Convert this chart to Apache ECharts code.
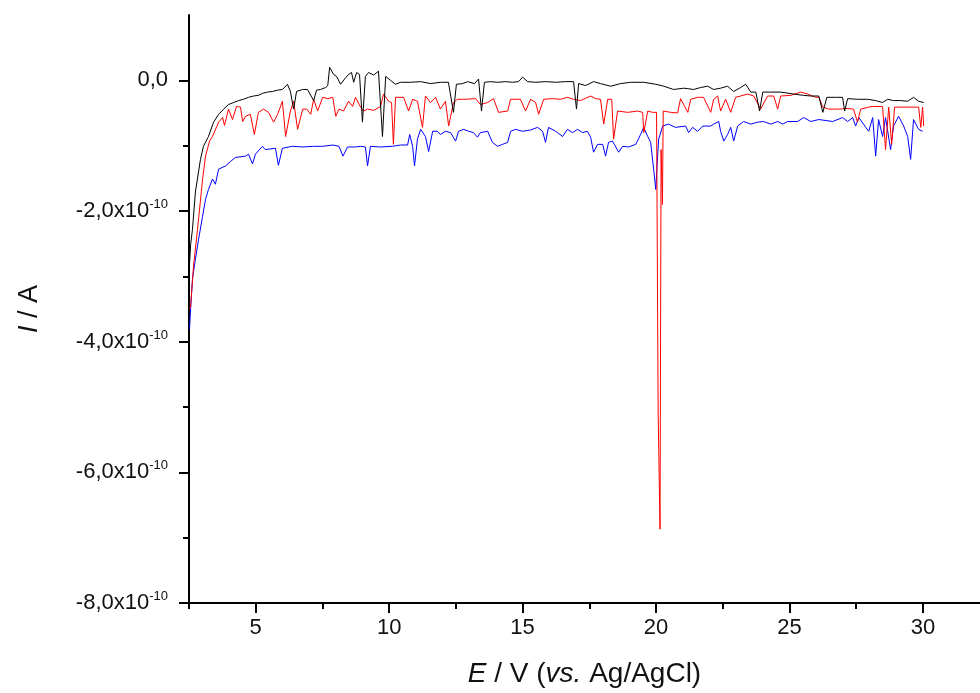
<!DOCTYPE html>
<html>
<head>
<meta charset="utf-8">
<script src="https://cdn.jsdelivr.net/npm/echarts@6/dist/echarts.min.js"></script>
<style>
html,body{margin:0;padding:0;background:#fff;}
#chart{width:980px;height:693px;}
</style>
</head>
<body>
<div id="chart"></div>
<script>
// Potential E / V (vs. Ag/AgCl) and current I in units of 1e-10 A
const blackE = [2.52,2.56,2.63,2.74,2.93,3.04,3.23,3.42,3.61,3.80,3.98,4.17,4.36,4.54,4.73,4.92,5.10,5.25,5.44,5.63,5.82,6.00,6.19,6.30,6.42,6.53,6.76,6.94,7.17,7.28,7.43,7.62,7.70,7.77,7.92,8.03,8.18,8.33,8.48,8.59,8.67,8.78,8.89,9.00,9.11,9.23,9.42,9.60,9.75,9.87,10.05,10.24,10.43,10.80,11.18,11.55,11.92,12.22,12.41,12.52,12.75,12.94,13.20,13.35,13.46,13.57,13.80,14.06,14.36,14.63,14.85,15.00,15.19,15.49,15.86,16.24,16.61,16.91,17.02,17.10,17.36,17.66,17.92,18.30,18.67,19.05,19.54,19.99,20.29,20.66,21.04,21.41,21.67,21.93,22.16,22.42,22.68,22.91,23.17,23.36,23.55,23.74,23.88,24.00,24.30,24.67,25.16,25.53,25.80,26.10,26.25,26.40,26.73,26.99,27.07,27.18,27.55,27.93,28.23,28.49,28.68,28.90,29.17,29.43,29.65,29.84,30.03];
const blackI = [-2.81,-2.52,-2.28,-1.71,-1.21,-1.01,-0.86,-0.64,-0.52,-0.44,-0.37,-0.34,-0.31,-0.29,-0.26,-0.24,-0.23,-0.20,-0.18,-0.17,-0.15,-0.14,-0.06,-0.17,-0.44,-0.17,-0.14,-0.14,-0.31,-0.15,-0.14,-0.11,-0.08,0.20,0.09,0.06,-0.06,0.02,0.09,0.12,-0.03,0.12,0.09,-0.64,0.06,0.12,0.08,0.14,-0.86,0.06,0.00,-0.06,-0.03,-0.03,-0.02,-0.05,-0.03,-0.03,-0.49,-0.06,-0.05,-0.02,-0.05,0.02,-0.47,-0.03,-0.02,-0.03,-0.02,-0.03,-0.02,0.05,-0.02,-0.03,-0.02,-0.03,-0.02,-0.02,-0.44,-0.05,-0.08,-0.02,-0.05,-0.09,-0.05,-0.03,-0.03,-0.06,-0.09,-0.14,-0.12,-0.14,-0.11,-0.09,-0.14,-0.12,-0.09,-0.17,-0.11,-0.06,-0.18,-0.18,-0.47,-0.18,-0.18,-0.18,-0.21,-0.23,-0.24,-0.24,-0.49,-0.26,-0.26,-0.26,-0.47,-0.28,-0.29,-0.29,-0.31,-0.34,-0.29,-0.31,-0.31,-0.32,-0.26,-0.32,-0.34];

const redE = [2.52,2.56,2.67,2.82,3.01,3.12,3.27,3.38,3.61,3.76,3.83,3.98,4.13,4.28,4.43,4.51,4.62,4.80,4.95,5.10,5.29,5.48,5.67,5.82,6.00,6.12,6.30,6.42,6.57,6.76,6.91,7.06,7.17,7.32,7.51,7.70,7.89,8.00,8.12,8.29,8.48,8.63,8.74,8.93,9.04,9.19,9.42,9.68,9.79,9.98,10.09,10.16,10.24,10.54,10.73,10.88,11.06,11.25,11.36,11.55,11.74,11.92,12.11,12.23,12.41,12.56,12.86,13.24,13.42,13.69,13.91,14.10,14.44,14.55,14.92,15.11,15.30,15.49,15.60,15.79,16.12,16.42,16.68,16.91,17.17,17.55,17.74,17.92,18.04,18.19,18.34,18.41,18.56,18.94,19.31,19.50,19.54,19.69,19.87,20.02,20.08,20.15,20.19,20.24,20.27,20.55,20.81,20.92,21.19,21.30,21.56,21.78,22.05,22.16,22.31,22.42,22.61,22.80,22.98,23.17,23.43,23.66,23.92,24.18,24.41,24.56,24.67,25.05,25.42,25.68,25.98,26.10,26.25,26.47,26.73,26.92,27.10,27.40,27.55,27.67,27.97,28.12,28.49,28.60,28.72,28.83,28.94,29.36,29.62,29.84,29.92,29.99,30.03];
const redI = [-3.50,-3.46,-2.84,-2.28,-1.51,-1.16,-0.93,-0.86,-0.64,-0.57,-0.69,-0.44,-0.60,-0.40,-0.41,-0.63,-0.55,-0.52,-0.83,-0.49,-0.44,-0.49,-0.64,-0.52,-0.32,-0.86,-0.47,-0.32,-0.75,-0.44,-0.44,-0.52,-0.29,-0.47,-0.26,-0.28,-0.26,-0.55,-0.44,-0.47,-0.32,-0.40,-0.26,-0.41,-0.47,-0.44,-0.46,-0.40,-0.21,-0.32,-0.34,-0.98,-0.26,-0.26,-0.47,-0.29,-0.32,-0.72,-0.24,-0.34,-0.26,-0.44,-0.32,-0.70,-0.34,-0.29,-0.29,-0.28,-0.37,-0.34,-0.28,-0.49,-0.47,-0.29,-0.29,-0.47,-0.29,-0.34,-0.52,-0.29,-0.28,-0.29,-0.26,-0.29,-0.31,-0.24,-0.28,-0.29,-0.67,-0.29,-0.29,-0.90,-0.47,-0.49,-0.47,-0.49,-0.80,-0.47,-0.49,-0.49,-5.08,-6.87,-1.06,-1.90,-0.47,-0.49,-0.50,-0.28,-0.49,-0.29,-0.26,-0.26,-0.49,-0.29,-0.24,-0.47,-0.29,-0.49,-0.26,-0.24,-0.21,-0.24,-0.44,-0.24,-0.24,-0.44,-0.24,-0.23,-0.18,-0.21,-0.26,-0.26,-0.41,-0.44,-0.44,-0.44,-0.43,-0.44,-0.64,-0.44,-0.41,-0.40,-0.40,-1.06,-0.41,-0.98,-0.41,-0.41,-0.41,-0.41,-0.72,-0.41,-0.70];

const blueE = [2.52,2.56,2.63,2.74,2.86,3.01,3.12,3.23,3.38,3.49,3.61,3.87,4.06,4.24,4.62,4.73,4.88,4.99,5.25,5.36,5.74,5.85,6.00,6.38,6.76,7.13,7.51,7.89,8.12,8.27,8.44,8.74,8.93,9.11,9.19,9.30,9.68,10.12,10.43,10.69,10.77,10.88,10.95,11.06,11.18,11.36,11.48,11.63,11.81,11.92,12.11,12.30,12.49,12.60,12.79,12.98,13.16,13.31,13.42,13.69,13.87,14.06,14.25,14.44,14.55,14.74,15.00,15.30,15.56,15.75,15.86,15.97,16.24,16.50,16.68,16.87,17.06,17.25,17.43,17.55,17.66,17.81,18.00,18.11,18.22,18.37,18.49,18.60,18.75,18.97,19.24,19.42,19.54,19.69,19.80,19.91,19.99,20.06,20.10,20.25,20.47,20.73,21.11,21.22,21.37,21.56,21.75,22.05,22.16,22.35,22.42,22.54,22.68,22.80,22.91,23.06,23.28,23.55,23.81,24.03,24.30,24.56,24.75,24.93,25.31,25.53,25.80,26.10,26.62,26.99,27.18,27.37,27.48,27.60,27.86,27.97,28.12,28.23,28.34,28.49,28.60,28.79,28.90,29.09,29.28,29.43,29.54,29.65,29.84,29.99];
const blueI = [-3.81,-3.50,-3.04,-2.74,-2.43,-2.08,-1.82,-1.67,-1.51,-1.59,-1.36,-1.31,-1.24,-1.18,-1.16,-1.13,-1.28,-1.13,-1.01,-1.06,-1.04,-1.30,-1.04,-1.01,-1.02,-1.01,-1.01,-0.99,-1.01,-1.16,-1.02,-1.02,-1.01,-1.02,-1.31,-1.01,-1.02,-1.01,-0.99,-0.99,-0.83,-1.01,-1.31,-0.90,-0.75,-0.86,-1.09,-0.78,-0.78,-0.83,-0.78,-0.80,-0.93,-0.78,-0.75,-0.78,-0.80,-0.87,-0.80,-0.78,-0.95,-1.01,-0.98,-0.95,-0.78,-0.75,-0.78,-0.76,-0.72,-0.78,-0.95,-0.72,-0.78,-0.86,-0.75,-0.80,-0.75,-0.80,-0.78,-0.87,-1.10,-0.98,-0.98,-1.16,-0.95,-0.93,-1.02,-1.10,-1.01,-1.02,-0.98,-0.83,-0.72,-0.86,-0.95,-1.36,-1.67,-1.16,-0.90,-0.70,-0.67,-0.72,-0.70,-0.80,-0.72,-0.78,-0.70,-0.70,-0.67,-0.63,-0.78,-0.93,-0.83,-0.72,-0.93,-0.70,-0.63,-0.67,-0.64,-0.63,-0.67,-0.63,-0.67,-0.63,-0.63,-0.57,-0.63,-0.60,-0.63,-0.57,-0.63,-0.57,-0.70,-0.57,-0.72,-0.78,-0.57,-1.16,-0.60,-0.86,-0.57,-1.06,-0.70,-0.55,-0.70,-0.86,-1.21,-0.60,-0.75,-0.78];

const xMajorTicks = [5,10,15,20,25,30];
const xMinorTicks = [2.5,7.5,12.5,17.5,22.5,27.5];
const yMajorTicks = [0,-2,-4,-6,-8];
const yMinorTicks = [-1,-3,-5,-7];

function zip(a,b){ return a.map((v,i)=>[v,b[i]]); }

const X_MIN = 2.5, X_MAX = 32.14, Y_MIN = -8, Y_MAX = 1;
const FONT = 'Liberation Sans, Arial, sans-serif';
const TXT = '#111';

const chart = echarts.init(document.getElementById('chart'), null, {renderer:'canvas'});
chart.setOption({
  animation:false,
  backgroundColor:'#ffffff',
  grid:{left:189, right:0, top:15, bottom:89, containLabel:false},
  xAxis:[
    {
      type:'value', position:'bottom', min:X_MIN, max:X_MAX, interval:2.5, splitLine:{show:false},
      axisLine:{show:true, onZero:false, lineStyle:{color:'#000', width:2}},
      axisTick:{show:true, customValues:xMajorTicks, length:10, lineStyle:{color:'#000', width:2}},
      axisLabel:{show:true, customValues:xMajorTicks, margin:14, color:TXT, fontFamily:FONT, fontSize:22},
      name:'{i|E}{n| / V (}{i|vs.}{n| Ag/AgCl)}',
      nameLocation:'middle', nameGap:57,
      nameTextStyle:{color:TXT, fontFamily:FONT, fontSize:28,
        rich:{i:{fontStyle:'italic', fontFamily:FONT, fontSize:28, color:TXT}, n:{fontFamily:FONT, fontSize:28, color:TXT}}}
    },
    {
      type:'value', position:'bottom', min:X_MIN, max:X_MAX, interval:2.5, splitLine:{show:false},
      axisLine:{show:false, onZero:false},
      axisTick:{show:true, customValues:xMinorTicks, length:6, lineStyle:{color:'#000', width:2}},
      axisLabel:{show:false}
    }
  ],
  yAxis:[
    {
      type:'value', position:'left', min:Y_MIN, max:Y_MAX, interval:1, splitLine:{show:false},
      axisLine:{show:true, onZero:false, lineStyle:{color:'#000', width:2}},
      axisTick:{show:true, customValues:yMajorTicks, length:10, lineStyle:{color:'#000', width:2}},
      axisLabel:{show:true, customValues:yMajorTicks, margin:21,
        formatter:function(v){
          if (v === 0) return '{m|0,0}';
          return '{m|' + v + ',0x10}{s|-10}';
        },
        rich:{
          m:{fontFamily:FONT, fontSize:22, color:TXT, lineHeight:26, verticalAlign:'middle'},
          s:{fontFamily:FONT, fontSize:13, color:TXT, lineHeight:14, verticalAlign:'top'}
        }
      },
      name:'{i|I}{n| / A}',
      nameLocation:'middle', nameGap:146, nameRotate:90,
      nameTextStyle:{color:TXT, fontFamily:FONT, fontSize:27,
        rich:{i:{fontStyle:'italic', fontFamily:FONT, fontSize:27, color:TXT}, n:{fontFamily:FONT, fontSize:27, color:TXT}}}
    },
    {
      type:'value', position:'left', min:Y_MIN, max:Y_MAX, interval:1, splitLine:{show:false},
      axisLine:{show:false, onZero:false},
      axisTick:{show:true, customValues:yMinorTicks, length:6, lineStyle:{color:'#000', width:2}},
      axisLabel:{show:false}
    }
  ],
  series:[
    {type:'line', name:'blue', data:zip(blueE, blueI), showSymbol:false, symbol:'none',
     lineStyle:{color:'#0000ff', width:1}, xAxisIndex:0, yAxisIndex:0, z:2},
    {type:'line', name:'red', data:zip(redE, redI), showSymbol:false, symbol:'none',
     lineStyle:{color:'#ff0000', width:1}, xAxisIndex:0, yAxisIndex:0, z:3},
    {type:'line', name:'black', data:zip(blackE, blackI), showSymbol:false, symbol:'none',
     lineStyle:{color:'#000000', width:1}, xAxisIndex:0, yAxisIndex:0, z:4}
  ]
});
</script>
</body>
</html>
